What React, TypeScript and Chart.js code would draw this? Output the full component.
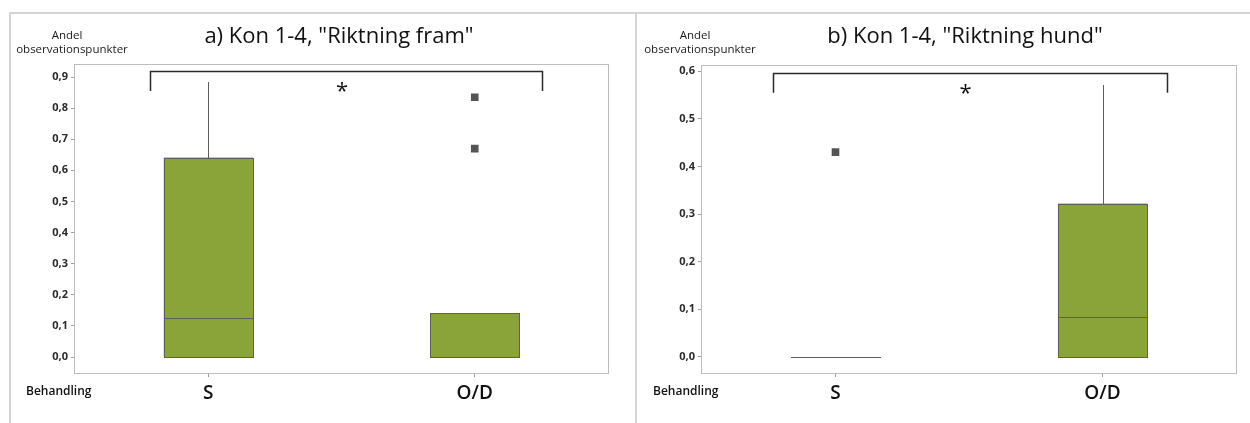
import React, { useEffect, useRef } from 'react';
import { Chart, registerables } from 'chart.js';

Chart.register(...registerables);

const categories = ['S', 'O/D'];

// Panel a) "Riktning fram"
const aTitle = 'a) Kon 1-4, "Riktning fram"';
const aQ1 = [0, 0];
const aQ3 = [0.641, 0.14];
const aMedian = [0.126, 0];
const aWhiskerLow = [0, 0];
const aWhiskerHigh = [0.885, 0.14];
const aOutlierCats = ['O/D', 'O/D'];
const aOutlierValues = [0.835, 0.67];
const aYTicks = [0, 0.1, 0.2, 0.3, 0.4, 0.5, 0.6, 0.7, 0.8, 0.9];
const aYTickLabels = ['0,0', '0,1', '0,2', '0,3', '0,4', '0,5', '0,6', '0,7', '0,8', '0,9'];
const aYRange = [-0.0514, 0.9386];
const aBracketX = [-0.218, 1.253];
const aBracketY = [0.92, 0.855];

// Panel b) "Riktning hund"
const bTitle = 'b) Kon 1-4, "Riktning hund"';
const bQ1 = [0, 0];
const bQ3 = [0, 0.322];
const bMedian = [0, 0.084];
const bWhiskerLow = [0, 0];
const bWhiskerHigh = [0, 0.571];
const bOutlierCats = ['S'];
const bOutlierValues = [0.43];
const bYTicks = [0, 0.1, 0.2, 0.3, 0.4, 0.5, 0.6];
const bYTickLabels = ['0,0', '0,1', '0,2', '0,3', '0,4', '0,5', '0,6'];
const bYRange = [-0.034, 0.611];
const bBracketX = [-0.235, 1.24];
const bBracketY = [0.597, 0.555];

const significance = '*';
const yAxisTitle = ['Andel', 'observationspunkter'];
const xAxisTitle = 'Behandling';

const BOX_FILL = '#8ba43a';
const BOX_LINE = '#5e5e5e';
const FONT = "'Open Sans', 'Noto Sans', sans-serif";

type PanelData = {
  q1: number[];
  q3: number[];
  median: number[];
  wLow: number[];
  wHigh: number[];
  outCats: string[];
  outVals: number[];
  yTicks: number[];
  yLabels: string[];
  yRange: number[];
  bracketX: number[];
  bracketY: number[];
};

function px(v: number) {
  return Math.round(v) + 0.5;
}

function makeExtras(d: PanelData) {
  return {
    id: 'boxExtras',
    afterDatasetsDraw(chart: any) {
      const { ctx, scales } = chart;
      const x = scales.x;
      const y = scales.y;
      const meta = chart.getDatasetMeta(0);
      ctx.save();
      ctx.lineWidth = 1;
      ctx.strokeStyle = BOX_LINE;
      d.q1.forEach((q1, i) => {
        const bar = meta.data[i];
        const cx = px(x.getPixelForValue(i));
        const half = bar.width / 2;
        const l = Math.round(bar.x - half);
        const r = Math.round(bar.x + half);
        const top = Math.round(y.getPixelForValue(d.q3[i]));
        const bot = Math.round(y.getPixelForValue(q1));
        // box outline (fill re-painted on pixel grid)
        if (bot > top) {
          ctx.fillStyle = BOX_FILL;
          ctx.fillRect(l, top, r - l, bot - top);
          ctx.strokeRect(l + 0.5, top + 0.5, r - l, bot - top);
        }
        // upper whisker
        if (d.wHigh[i] > d.q3[i]) {
          ctx.beginPath();
          ctx.moveTo(cx, top);
          ctx.lineTo(cx, Math.round(y.getPixelForValue(d.wHigh[i])));
          ctx.stroke();
        }
        // lower whisker
        if (d.wLow[i] < q1) {
          ctx.beginPath();
          ctx.moveTo(cx, bot);
          ctx.lineTo(cx, Math.round(y.getPixelForValue(d.wLow[i])));
          ctx.stroke();
        }
        // median
        const my = Math.round(y.getPixelForValue(d.median[i])) + 0.5;
        ctx.beginPath();
        ctx.moveTo(l, my);
        ctx.lineTo(r + 1, my);
        ctx.stroke();
      });
      // significance bracket
      const x0 = x.getPixelForValue(d.bracketX[0]);
      const x1 = x.getPixelForValue(d.bracketX[1]);
      const yt = y.getPixelForValue(d.bracketY[0]);
      const yb = y.getPixelForValue(d.bracketY[1]);
      ctx.strokeStyle = '#2a2a2a';
      ctx.lineWidth = 1.5;
      ctx.beginPath();
      ctx.moveTo(px(x0), yb);
      ctx.lineTo(px(x0), px(yt));
      ctx.lineTo(px(x1), px(yt));
      ctx.lineTo(px(x1), yb);
      ctx.stroke();
      ctx.fillStyle = '#111';
      ctx.font = `22px ${FONT}`;
      ctx.textAlign = 'center';
      ctx.textBaseline = 'alphabetic';
      ctx.fillText(significance, (x0 + x1) / 2 - 4, yt + 27);
      ctx.restore();
    },
    afterDraw(chart: any) {
      const { ctx, chartArea } = chart;
      ctx.save();
      ctx.strokeStyle = '#bcbcbc';
      ctx.lineWidth = 1;
      ctx.strokeRect(
        Math.round(chartArea.left) - 0.5,
        Math.round(chartArea.top) - 0.5,
        Math.round(chartArea.right - chartArea.left) + 1,
        Math.round(chartArea.bottom - chartArea.top) + 1
      );
      ctx.restore();
    },
  };
}

function Panel(props: { left: number; top: number; width: number; height: number; padRight: number; padTop: number; d: PanelData }) {
  const ref = useRef<HTMLCanvasElement | null>(null);
  const { d } = props;
  useEffect(() => {
    const canvas = ref.current;
    if (!canvas) return;
    const chart = new Chart(canvas, {
      type: 'bar',
      data: {
        labels: categories,
        datasets: [
          {
            type: 'bar',
            data: categories.map((_, i) => [d.q1[i], d.q3[i]]) as any,
            backgroundColor: BOX_FILL,
            borderWidth: 0,
            barPercentage: 0.334,
            categoryPercentage: 1,
          } as any,
          {
            type: 'scatter',
            data: d.outCats.map((c, i) => ({ x: c, y: d.outVals[i] })) as any,
            pointStyle: 'rect',
            pointRadius: 5.4,
            pointBorderWidth: 0,
            pointBackgroundColor: '#545454',
            backgroundColor: '#545454',
            borderWidth: 0,
            showLine: false,
          } as any,
        ],
      },
      options: {
        animation: false,
        responsive: false,
        maintainAspectRatio: false,
        devicePixelRatio: 1,
        layout: { padding: { left: 0, top: props.padTop, right: props.padRight, bottom: 0 } },
        plugins: { legend: { display: false }, tooltip: { enabled: false }, title: { display: false } },
        scales: {
          x: {
            type: 'category',
            offset: true,
            grid: { display: true, drawOnChartArea: false, drawTicks: true, tickLength: 4, color: '#9a9a9a', offset: false },
            border: { display: false },
            ticks: { color: '#111', font: { family: FONT, size: 19, weight: '600' as any }, padding: 5, maxRotation: 0 },
            afterFit: (s: any) => {
              s.height = 50;
            },
          },
          y: {
            type: 'linear',
            min: d.yRange[0],
            max: d.yRange[1],
            grid: { display: true, drawOnChartArea: false, drawTicks: true, tickLength: 4, color: '#9a9a9a' },
            border: { display: false },
            afterBuildTicks: (s: any) => {
              s.ticks = d.yTicks.map((v) => ({ value: v }));
            },
            ticks: {
              color: '#2b2b2b',
              font: { family: FONT, size: 11, weight: 'bold' as any },
              padding: 3,
              callback: (_v: any, i: number) => d.yLabels[i],
            },
            afterFit: (s: any) => {
              s.width = 64;
            },
          },
        },
      } as any,
      plugins: [makeExtras(d)],
    });
    return () => chart.destroy();
  }, []);
  return (
    <canvas
      ref={ref}
      width={props.width}
      height={props.height}
      style={{ position: 'absolute', left: props.left, top: props.top, width: props.width, height: props.height, display: 'block' }}
    />
  );
}

const textBase: React.CSSProperties = {
  position: 'absolute',
  fontFamily: FONT,
  color: '#111',
  whiteSpace: 'nowrap',
  lineHeight: 1,
};

function Texts(props: { offset: number; title: string; titleCenter: number; andelCenter: number; obsCenter: number }) {
  const o = props.offset;
  return (
    <>
      <div style={{ ...textBase, left: props.titleCenter - 250, width: 500, textAlign: 'center', top: 23, fontSize: 22, fontWeight: 500 }}>{props.title}</div>
      <div style={{ ...textBase, left: props.andelCenter - 60, width: 120, textAlign: 'center', top: 29, fontSize: 11.5, color: '#1a1a1a' }}>{yAxisTitle[0]}</div>
      <div style={{ ...textBase, left: props.obsCenter - 80, width: 160, textAlign: 'center', top: 43, fontSize: 11.5, color: '#1a1a1a' }}>{yAxisTitle[1]}</div>
      <div style={{ ...textBase, left: o + 16, top: 385, fontSize: 12, fontWeight: 600, color: '#111' }}>{xAxisTitle}</div>
    </>
  );
}

export default function App() {
  const aData: PanelData = {
    q1: aQ1, q3: aQ3, median: aMedian, wLow: aWhiskerLow, wHigh: aWhiskerHigh,
    outCats: aOutlierCats, outVals: aOutlierValues, yTicks: aYTicks, yLabels: aYTickLabels,
    yRange: aYRange, bracketX: aBracketX, bracketY: aBracketY,
  };
  const bData: PanelData = {
    q1: bQ1, q3: bQ3, median: bMedian, wLow: bWhiskerLow, wHigh: bWhiskerHigh,
    outCats: bOutlierCats, outVals: bOutlierValues, yTicks: bYTicks, yLabels: bYTickLabels,
    yRange: bYRange, bracketX: bBracketX, bracketY: bBracketY,
  };
  return (
    <div style={{ position: 'fixed', left: 0, top: 0, width: 1250, height: 423, background: '#fff', overflow: 'hidden' }}>
      <div style={{ position: 'absolute', left: 10, top: 12, width: 1240, height: 2, background: '#d4d4d4' }} />
      <div style={{ position: 'absolute', left: 9, top: 12, width: 2, height: 411, background: '#d4d4d4' }} />
      <div style={{ position: 'absolute', left: 635, top: 12, width: 2, height: 411, background: '#d4d4d4' }} />
      <Panel left={11} top={14} width={624} height={409} padRight={27} padTop={51} d={aData} />
      <Panel left={638} top={14} width={612} height={409} padRight={14} padTop={52} d={bData} />
      <Texts offset={10} title={aTitle} titleCenter={339} andelCenter={67} obsCenter={72} />
      <Texts offset={637} title={bTitle} titleCenter={965} andelCenter={695} obsCenter={700} />
    </div>
  );
}
